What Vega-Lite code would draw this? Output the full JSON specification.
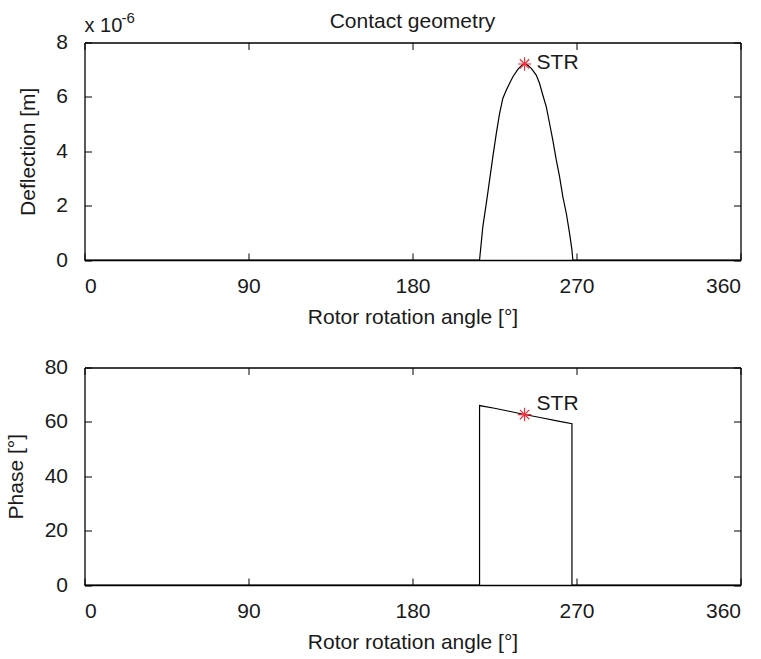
{
  "$schema": "https://vega.github.io/schema/vega-lite/v6.json",
  "autosize": {"type": "pad"},
  "padding": {"left": 5.5, "top": 10.5, "right": 5, "bottom": 5},
  "background": "white",
  "config": {
    "font": "Liberation Sans",
    "view": {"stroke": null},
    "axis": {
      "grid": false,
      "domainColor": "black",
      "domainWidth": 1.3,
      "tickColor": "black",
      "tickWidth": 1,
      "tickSize": -7,
      "labelFont": "Liberation Sans",
      "labelFontSize": 21,
      "labelColor": "#1a1a1a",
      "labelPadding": 24,
      "titleFont": "Liberation Sans",
      "titleFontSize": 21,
      "titleFontWeight": "normal",
      "titleColor": "#1a1a1a"
    },
    "axisX": {"labelPadding": 22}
  },
  "bounds": "flush",
  "spacing": 107,
  "datasets": {
    "deflection": [
      {"angle": 0, "deflection": 0},
      {"angle": 216.8, "deflection": 0},
      {"angle": 217.7, "deflection": 0.61},
      {"angle": 218.6, "deflection": 1.23},
      {"angle": 220.5, "deflection": 2.08},
      {"angle": 222.3, "deflection": 2.94},
      {"angle": 224.1, "deflection": 3.8},
      {"angle": 226.0, "deflection": 4.66},
      {"angle": 227.8, "deflection": 5.39},
      {"angle": 229.6, "deflection": 5.95},
      {"angle": 231.5, "deflection": 6.25},
      {"angle": 233.3, "deflection": 6.5},
      {"angle": 235.1, "deflection": 6.74},
      {"angle": 237.8, "deflection": 7.01},
      {"angle": 240.2, "deflection": 7.17},
      {"angle": 241.5, "deflection": 7.23},
      {"angle": 242.8, "deflection": 7.19},
      {"angle": 245.2, "deflection": 7.05},
      {"angle": 247.9, "deflection": 6.8},
      {"angle": 249.7, "deflection": 6.5},
      {"angle": 251.5, "deflection": 6.07},
      {"angle": 253.4, "deflection": 5.64},
      {"angle": 255.2, "deflection": 5.03},
      {"angle": 257.0, "deflection": 4.41},
      {"angle": 258.9, "deflection": 3.68},
      {"angle": 260.7, "deflection": 3.07},
      {"angle": 262.5, "deflection": 2.33},
      {"angle": 264.4, "deflection": 1.72},
      {"angle": 266.2, "deflection": 0.98},
      {"angle": 267.5, "deflection": 0.37},
      {"angle": 268.0, "deflection": 0},
      {"angle": 360, "deflection": 0}
    ],
    "phase": [
      {"angle": 0, "phase": 0},
      {"angle": 216.8, "phase": 0},
      {"angle": 216.8, "phase": 66.0},
      {"angle": 225.0, "phase": 65.0},
      {"angle": 233.0, "phase": 63.9},
      {"angle": 241.5, "phase": 62.7},
      {"angle": 250.0, "phase": 61.6},
      {"angle": 260.0, "phase": 60.3},
      {"angle": 267.5, "phase": 59.3},
      {"angle": 267.5, "phase": 0},
      {"angle": 360, "phase": 0}
    ],
    "str_top": [{"angle": 241.5, "deflection": 7.21, "label": "STR"}],
    "str_bottom": [{"angle": 241.5, "phase": 62.7, "label": "STR"}]
  },
  "vconcat": [
    {
      "width": 656,
      "height": 217.5,
      "resolve": {"axis": {"x": "independent", "y": "independent"}},
      "layer": [
        {
          "data": {"name": "deflection"},
          "mark": {"type": "line", "color": "black", "strokeWidth": 1.2},
          "encoding": {
            "x": {"field": "angle", "type": "quantitative", "scale": {"domain": [0, 360], "nice": false},
                  "axis": {"orient": "bottom", "values": [0, 90, 180, 270, 360], "title": "Rotor rotation angle [°]", "titlePadding": 10}},
            "y": {"field": "deflection", "type": "quantitative", "scale": {"domain": [0, 8], "nice": false},
                  "axis": {"orient": "left", "values": [0, 2, 4, 6, 8], "title": "Deflection [m]", "titlePadding": 17.5}}
          }
        },
        {
          "data": {"name": "deflection"},
          "mark": {"type": "line", "opacity": 0},
          "encoding": {
            "x": {"field": "angle", "type": "quantitative",
                  "axis": {"orient": "top", "values": [0, 90, 180, 270, 360], "labels": false, "title": null}},
            "y": {"field": "deflection", "type": "quantitative",
                  "axis": {"orient": "right", "values": [0, 2, 4, 6, 8], "labels": false, "title": null}}
          }
        },
        {
          "data": {"name": "str_top"},
          "mark": {"type": "point", "shape": "M0,-1L0,1M-1,0L1,0M-0.7,-0.7L0.7,0.7M-0.7,0.7L0.7,-0.7", "filled": false, "stroke": "#f0303a", "strokeWidth": 1.2, "size": 180, "opacity": 1},
          "encoding": {
            "x": {"field": "angle", "type": "quantitative", "axis": null},
            "y": {"field": "deflection", "type": "quantitative", "axis": null}
          }
        },
        {
          "data": {"name": "str_top"},
          "mark": {"type": "text", "align": "left", "baseline": "middle", "dx": 12, "dy": -1, "fontSize": 21, "color": "#1a1a1a"},
          "encoding": {
            "x": {"field": "angle", "type": "quantitative", "axis": null},
            "y": {"field": "deflection", "type": "quantitative", "axis": null},
            "text": {"field": "label"}
          }
        },
        {
          "data": {"values": [{"a": 1}]},
          "mark": {"type": "text", "align": "center", "baseline": "alphabetic", "dy": -15, "fontSize": 21, "color": "#1a1a1a", "text": "Contact geometry"},
          "encoding": {
            "x": {"datum": 180, "type": "quantitative", "axis": null},
            "y": {"datum": 8, "type": "quantitative", "axis": null}
          }
        },
        {
          "data": {"values": [{"a": 1}]},
          "mark": {"type": "text", "align": "left", "baseline": "alphabetic", "dx": 0, "dy": -11, "fontSize": 20, "color": "#1a1a1a", "text": "x 10"},
          "encoding": {
            "x": {"datum": 0, "type": "quantitative", "axis": null},
            "y": {"datum": 8, "type": "quantitative", "axis": null}
          }
        },
        {
          "data": {"values": [{"a": 1}]},
          "mark": {"type": "text", "align": "left", "baseline": "alphabetic", "dx": 37, "dy": -19.5, "fontSize": 15, "color": "#1a1a1a", "text": "-6"},
          "encoding": {
            "x": {"datum": 0, "type": "quantitative", "axis": null},
            "y": {"datum": 8, "type": "quantitative", "axis": null}
          }
        }
      ]
    },
    {
      "width": 656,
      "height": 217.5,
      "resolve": {"axis": {"x": "independent", "y": "independent"}},
      "layer": [
        {
          "data": {"name": "phase"},
          "mark": {"type": "line", "color": "black", "strokeWidth": 1.2},
          "encoding": {
            "x": {"field": "angle", "type": "quantitative", "scale": {"domain": [0, 360], "nice": false},
                  "axis": {"orient": "bottom", "values": [0, 90, 180, 270, 360], "title": "Rotor rotation angle [°]", "titlePadding": 10}},
            "y": {"field": "phase", "type": "quantitative", "scale": {"domain": [0, 80], "nice": false},
                  "axis": {"orient": "left", "values": [0, 20, 40, 60, 80], "title": "Phase [°]", "titlePadding": 17.5}}
          }
        },
        {
          "data": {"name": "phase"},
          "mark": {"type": "line", "opacity": 0},
          "encoding": {
            "x": {"field": "angle", "type": "quantitative",
                  "axis": {"orient": "top", "values": [0, 90, 180, 270, 360], "labels": false, "title": null}},
            "y": {"field": "phase", "type": "quantitative",
                  "axis": {"orient": "right", "values": [0, 20, 40, 60, 80], "labels": false, "title": null}}
          }
        },
        {
          "data": {"name": "str_bottom"},
          "mark": {"type": "point", "shape": "M0,-1L0,1M-1,0L1,0M-0.7,-0.7L0.7,0.7M-0.7,0.7L0.7,-0.7", "filled": false, "stroke": "#f0303a", "strokeWidth": 1.2, "size": 180, "opacity": 1},
          "encoding": {
            "x": {"field": "angle", "type": "quantitative", "axis": null},
            "y": {"field": "phase", "type": "quantitative", "axis": null}
          }
        },
        {
          "data": {"name": "str_bottom"},
          "mark": {"type": "text", "align": "left", "baseline": "middle", "dx": 12, "dy": -11, "fontSize": 21, "color": "#1a1a1a"},
          "encoding": {
            "x": {"field": "angle", "type": "quantitative", "axis": null},
            "y": {"field": "phase", "type": "quantitative", "axis": null},
            "text": {"field": "label"}
          }
        }
      ]
    }
  ]
}
